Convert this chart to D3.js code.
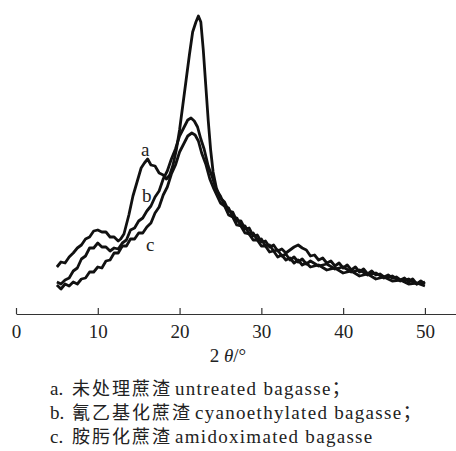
<!DOCTYPE html>
<html>
<head>
<meta charset="utf-8">
<script src="https://cdn.jsdelivr.net/npm/d3@7"></script>
<style>
  body { margin: 0; background: #fff; }
  svg text { font-family: "Liberation Serif", "Times New Roman", "Noto Sans CJK SC", serif; fill: #222; }
</style>
</head>
<body>
<div id="chart"></div>
<script>
// 2θ (degrees) and relative intensity
const curveA = [
  [5.0, 47], [5.5, 52], [6.0, 51], [6.5, 57], [7.0, 61], [7.5, 66], [8.0, 69], [8.5, 75], [9.0, 77],
  [9.5, 83], [10.0, 84], [10.5, 82], [11.0, 82], [11.5, 77], [12.0, 77], [12.5, 73], [12.8, 75],
  [13.2, 80], [13.8, 99], [14.3, 118], [14.8, 132], [15.3, 146], [15.7, 151], [16.1, 155], [16.5, 149],
  [17.0, 148], [17.5, 141], [18.0, 139], [18.4, 135], [18.8, 139], [19.2, 149], [19.6, 164],
  [20.0, 184], [20.4, 209], [20.8, 234], [21.2, 259], [21.6, 282], [22.0, 292], [22.3, 298],
  [22.6, 292], [22.9, 264], [23.2, 229], [23.5, 194], [23.8, 164], [24.1, 142], [24.5, 126],
  [25.0, 116], [25.5, 112], [26.0, 103], [26.5, 102], [27.0, 93], [27.5, 93], [28.0, 85], [28.5, 86],
  [29.0, 78], [29.5, 79], [30.0, 72], [30.5, 73], [31.0, 67], [31.5, 69], [32.0, 63], [32.5, 65],
  [33.0, 61], [33.5, 64], [34.0, 67], [34.5, 69], [35.0, 66], [35.5, 64], [36.0, 58], [36.5, 59],
  [37.0, 54], [37.5, 56], [38.0, 51], [38.5, 53], [39.0, 48], [39.5, 51], [40.0, 46], [40.5, 49],
  [41.0, 44], [41.5, 47], [42.0, 42], [42.5, 45], [43.0, 40], [43.5, 43], [44.0, 39], [44.5, 40],
  [45.0, 37], [45.5, 39], [46.0, 36], [46.5, 37], [47.0, 34], [47.5, 36], [48.0, 32], [48.5, 35],
  [49.0, 30], [49.5, 33], [50.0, 30]
];
const curveB = [
  [5.0, 32], [5.5, 30], [6.0, 34], [6.5, 36], [7.0, 43], [7.5, 46], [8.0, 55], [8.5, 58], [9.0, 66],
  [9.5, 66], [10.0, 71], [10.5, 67], [11.0, 67], [11.5, 63], [12.0, 66], [12.5, 65], [13.0, 71],
  [13.5, 74], [14.0, 84], [14.5, 86], [15.0, 93], [15.5, 96], [16.0, 103], [16.5, 108], [17.0, 117],
  [17.5, 123], [18.0, 135], [18.5, 143], [19.0, 155], [19.5, 165], [20.0, 178], [20.5, 186],
  [21.0, 194], [21.4, 196], [21.8, 193], [22.2, 187], [22.6, 175], [23.0, 165], [23.5, 148],
  [24.0, 137], [24.5, 124], [25.0, 118], [25.5, 108], [26.0, 106], [26.5, 97], [27.0, 96],
  [27.5, 88], [28.0, 88], [28.5, 80], [29.0, 81], [29.5, 74], [30.0, 75], [30.5, 68], [31.0, 69],
  [31.5, 63], [32.0, 64], [32.5, 58], [33.0, 60], [33.5, 54], [34.0, 57], [34.5, 52], [35.0, 55],
  [35.5, 50], [36.0, 53], [37.0, 48], [38.0, 50], [39.0, 45], [40.0, 47], [41.0, 42], [42.0, 44],
  [43.0, 39], [44.0, 41], [45.0, 36], [46.0, 38], [47.0, 33], [48.0, 35], [49.0, 30], [50.0, 32]
];
const curveC = [
  [5.0, 29], [5.5, 25], [6.0, 30], [6.5, 28], [7.0, 32], [7.5, 30], [8.0, 35], [8.5, 36], [9.0, 42],
  [9.5, 42], [10.0, 47], [10.5, 46], [11.0, 53], [11.5, 54], [12.0, 61], [12.5, 61], [13.0, 68],
  [13.5, 68], [14.0, 75], [14.5, 75], [15.0, 81], [15.5, 81], [16.0, 87], [16.5, 91], [17.0, 101],
  [17.5, 107], [18.0, 119], [18.5, 127], [19.0, 140], [19.5, 149], [20.0, 162], [20.5, 170],
  [21.0, 178], [21.5, 181], [21.9, 179], [22.3, 173], [22.7, 161], [23.2, 150], [23.7, 135],
  [24.2, 125], [25.0, 111], [25.5, 108], [26.0, 99], [26.5, 97], [27.0, 89], [27.5, 88],
  [28.0, 81], [28.5, 80], [29.0, 74], [29.5, 74], [30.0, 68], [30.5, 68], [31.0, 62], [31.5, 63],
  [32.0, 57], [32.5, 59], [33.0, 54], [33.5, 56], [34.0, 51], [34.5, 54], [35.0, 49], [35.5, 51],
  [36.0, 47], [37.0, 49], [38.0, 44], [39.0, 46], [40.0, 41], [41.0, 43], [42.0, 38], [43.0, 40],
  [44.0, 35], [45.0, 37], [46.0, 33], [47.0, 34], [48.0, 30], [49.0, 31], [50.0, 28]
];
const seriesNames = ["a", "b", "c"];
const labelPos = [[15.8, 158], [16.0, 112], [16.4, 63]];
const xTicks = [0, 10, 20, 30, 40, 50];
const legendKeys = ["a.", "b.", "c."];
const legendZh = ["未处理蔗渣", "氰乙基化蔗渣", "胺肟化蔗渣"];
const legendEn = ["untreated bagasse；", "cyanoethylated bagasse；", "amidoximated bagasse"];

const width = 456, height = 451;

const svg = d3.select("#chart")
    .append("svg")
    .attr("width", width)
    .attr("height", height);

// x axis runs past 50 up to the right edge
const xScale = d3.scaleLinear().domain([0, 53.8]).range([16, 456]);
const yScale = d3.scaleLinear().domain([0, 300]).range([314, 14]);

const xAxis = svg.append("g")
    .attr("transform", "translate(0,314)")
    .call(d3.axisBottom(xScale)
        .tickValues(xTicks)
        .tickSizeInner(-6)
        .tickSizeOuter(0)
        .tickPadding(10.5)
        .tickFormat(d3.format("d")));
xAxis.select(".domain").attr("stroke", "#333").attr("stroke-width", 1.2);
xAxis.selectAll(".tick line").attr("stroke", "#333").attr("stroke-width", 1.2);
xAxis.selectAll(".tick text")
    .attr("font-family", null)
    .attr("font-size", 19)
    .attr("fill", "#222");

const line = d3.line()
    .x(d => xScale(d[0]))
    .y(d => yScale(d[1]));

[curveA, curveB, curveC].forEach(function (data) {
    svg.append("path")
        .datum(data)
        .attr("fill", "none")
        .attr("stroke", "#111")
        .attr("stroke-width", 2.8)
        .attr("stroke-linejoin", "round")
        .attr("d", line);
});

svg.selectAll(".series-label")
    .data(seriesNames)
    .enter()
    .append("text")
    .attr("class", "series-label")
    .attr("x", (d, i) => xScale(labelPos[i][0]))
    .attr("y", (d, i) => yScale(labelPos[i][1]))
    .attr("text-anchor", "middle")
    .attr("font-size", 19)
    .text(d => d);

// axis title: 2θ/°
const title = svg.append("text")
    .attr("x", 228)
    .attr("y", 362)
    .attr("text-anchor", "middle")
    .attr("font-size", 19);
title.append("tspan").text("2 ");
title.append("tspan").attr("font-style", "italic").text("θ");
title.append("tspan").text("/°");

const legend = svg.selectAll(".legend")
    .data(legendKeys)
    .enter()
    .append("text")
    .attr("class", "legend")
    .attr("y", (d, i) => 395 + i * 24)
    .attr("font-size", 19);
legend.append("tspan").attr("x", 50).text(d => d);
legend.append("tspan")
    .attr("x", 72)
    .attr("font-family", "Noto Sans CJK SC")
    .attr("font-size", 18)
    .attr("letter-spacing", 2)
    .text((d, i) => legendZh[i]);
legend.append("tspan")
    .attr("dx", 3)
    .attr("letter-spacing", 1.3)
    .text((d, i) => legendEn[i]);
</script>
</body>
</html>
